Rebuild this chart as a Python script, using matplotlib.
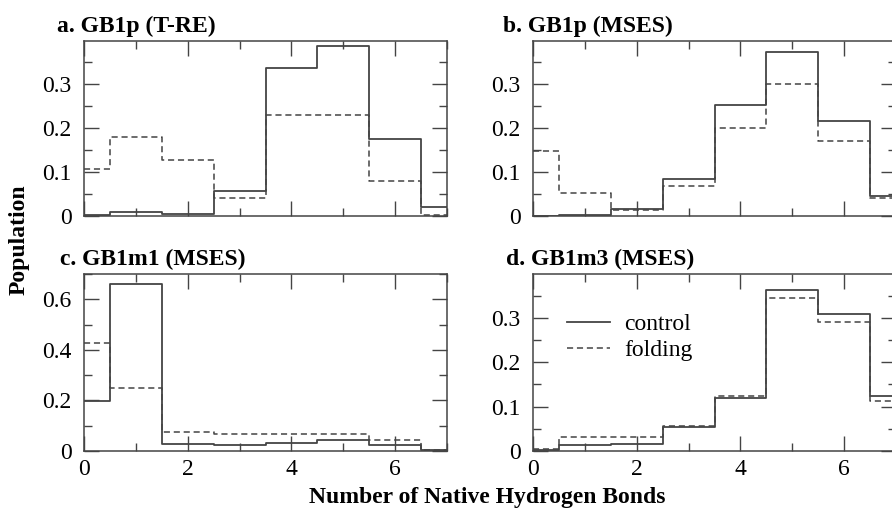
import matplotlib
matplotlib.use("Agg")
import matplotlib.pyplot as plt
from matplotlib.ticker import MultipleLocator
import numpy as np

# number of native hydrogen bonds (bin centres)
nhb = [0, 1, 2, 3, 4, 5, 6, 7]

# a. GB1p (T-RE)
a_control = [0.002, 0.008, 0.004, 0.057, 0.336, 0.385, 0.174, 0.020]
a_folding = [0.106, 0.179, 0.128, 0.041, 0.228, 0.230, 0.079, 0.002]
# b. GB1p (MSES)
b_control = [0.001, 0.002, 0.016, 0.083, 0.252, 0.373, 0.215, 0.046]
b_folding = [0.147, 0.053, 0.014, 0.069, 0.200, 0.300, 0.170, 0.040]
# c. GB1m1 (MSES)
c_control = [0.197, 0.662, 0.026, 0.022, 0.033, 0.042, 0.022, 0.005]
c_folding = [0.429, 0.248, 0.075, 0.069, 0.066, 0.069, 0.042, 0.005]
# d. GB1m3 (MSES)
d_control = [0.003, 0.013, 0.015, 0.055, 0.119, 0.363, 0.308, 0.124]
d_folding = [0.005, 0.031, 0.032, 0.057, 0.124, 0.344, 0.290, 0.113]

titles = ["a. GB1p (T-RE)", "b. GB1p (MSES)", "c. GB1m1 (MSES)", "d. GB1m3 (MSES)"]

W, H = 892, 508
plt.rcParams["font.family"] = ["Liberation Serif", "DejaVu Serif"]
plt.rcParams["font.size"] = 17
LINE = "#444444"

fig = plt.figure(figsize=(W / 100, H / 100), dpi=100)

def px_axes(left, top, right, bottom):
  return fig.add_axes([left / W, 1 - bottom / H, (right - left) / W, (bottom - top) / H])

ax_a = px_axes(84, 41, 447, 216)
ax_b = px_axes(533, 41, 896, 216)
ax_c = px_axes(84, 274, 447, 451)
ax_d = px_axes(533, 274, 896, 451)

panels = [
  (ax_a, a_control, a_folding, 0.397, 0.1, 0.05),
  (ax_b, b_control, b_folding, 0.397, 0.1, 0.05),
  (ax_c, c_control, c_folding, 0.70, 0.2, 0.1),
  (ax_d, d_control, d_folding, 0.399, 0.1, 0.05),
]

for i, (ax, ctl, fld, ytop, ymaj, ymin) in enumerate(panels):
  ax.step(nhb, ctl, where="mid", color=LINE, lw=1.3, label="control")
  ax.step(nhb, fld, where="mid", color=LINE, lw=1.1, ls=(0, (4, 2.5)), label="folding")
  ax.set_xlim(0, 7)
  ax.set_ylim(0, ytop)
  ax.xaxis.set_major_locator(MultipleLocator(2))
  ax.xaxis.set_minor_locator(MultipleLocator(1))
  ax.yaxis.set_major_locator(MultipleLocator(ymaj))
  ax.yaxis.set_minor_locator(MultipleLocator(ymin))
  ax.yaxis.set_major_formatter(plt.FuncFormatter(lambda v, p: "0" if abs(v) < 1e-9 else ("%.1f" % v)))
  ax.tick_params(which="both", direction="in", top=True, right=True, color=LINE, width=1.0)
  ax.tick_params(which="major", length=11)
  ax.tick_params(which="minor", length=6)
  ax.tick_params(axis="y", pad=9)
  ax.tick_params(axis="x", pad=6)
  for s in ax.spines.values():
    s.set_color(LINE)
    s.set_linewidth(1.1)
  if i < 2:
    ax.set_xticklabels([])

# panel titles
title_pos = [(57, 32), (503, 32), (60, 265), (506, 265)]
for t, (x, y) in zip(titles, title_pos):
  fig.text(x / W, 1 - y / H, t, fontweight="bold", ha="left", va="baseline")

ax_d.legend(loc="upper left", bbox_to_anchor=(0.042, 0.885), frameon=False,
            handlelength=1.8, handletextpad=0.6, labelspacing=0.2, borderpad=0.3)

fig.text(19 / W, 1 - 240 / H, "Population", rotation=90, fontweight="bold",
         ha="center", va="center")
fig.text(309 / W, 1 - 503 / H, "Number of Native Hydrogen Bonds", fontweight="bold",
         ha="left", va="baseline")

fig.savefig("out.png", dpi=100)
